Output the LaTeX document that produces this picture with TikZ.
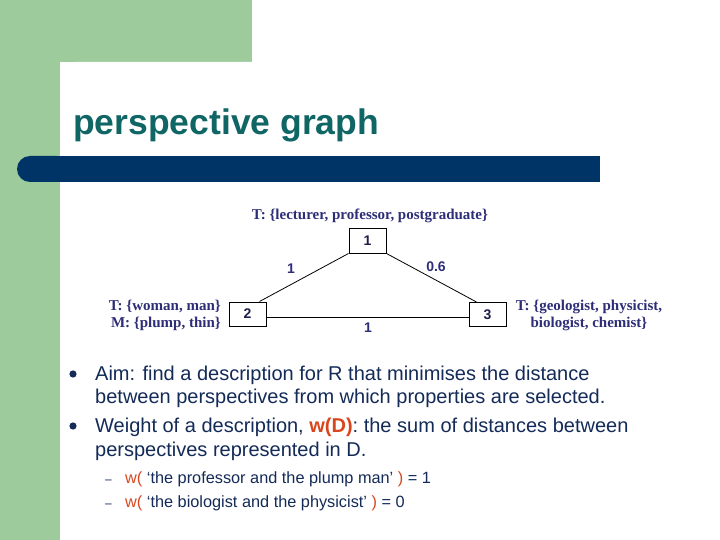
\documentclass[tikz,border=0pt]{standalone}
\usepackage{fontspec}
\setmainfont{Liberation Sans}
\newfontfamily\serifbold{Liberation Serif}
\usetikzlibrary{calc}
\definecolor{sgreen}{HTML}{9DCB9B}
\definecolor{barblue}{HTML}{003366}
\definecolor{titleteal}{HTML}{0F6664}
\definecolor{txtblue}{HTML}{142B58}
\definecolor{wred}{HTML}{D9461E}
\definecolor{lblnavy}{HTML}{2E2E78}
\definecolor{boxnavy}{HTML}{1E1E4A}
\tikzset{
  bodytxt/.style={anchor=base west, inner sep=0pt, text=txtblue, font=\fontsize{20}{24}\selectfont},
  subtxt/.style={anchor=base west, inner sep=0pt, text=txtblue, font=\fontsize{16.3}{19}\selectfont},
  pbox/.style={draw=black, line width=1pt, fill=white, minimum width=37pt, minimum height=24pt, inner sep=0pt, text=boxnavy, font=\fontsize{14}{16}\selectfont\bfseries},
  plabel/.style={inner sep=0pt, text=lblnavy, font=\fontsize{15}{17}\selectfont\serifbold\bfseries, align=center},
  elabel/.style={inner sep=0pt, text=lblnavy, font=\fontsize{14}{16}\selectfont\bfseries},
  edge/.style={draw=black, line width=0.8pt}
}
\begin{document}
\begin{tikzpicture}[x=1pt,y=-1pt]
\useasboundingbox (0,0) rectangle (720,540);
\clip (0,0) rectangle (720,540);
% background
\fill[white] (0,0) rectangle (720,540);
\fill[sgreen] (0,0) rectangle (252,62);
\fill[sgreen] (0,0) rectangle (60,540);
\fill[white, rounded corners=15pt] (60,62) rectangle (780,600);
% title
\node[anchor=base west, inner sep=0pt, text=titleteal, font=\fontsize{35.5}{40}\selectfont\bfseries] (title) at (73,135) {perspective graph};
% bar
\fill[barblue, rounded corners=13pt] (17,156) rectangle (70,182);
\fill[barblue] (40,156) rectangle (600,182);
% graph
\node[pbox] (b1) at (367.5,241) {1};
\node[pbox] (b2) at (247.5,314) {2};
\node[pbox] (b3) at (487.5,314.5) {3};
\draw[edge] (b1.south west) -- ($(b2.north east)+(-7,0)$);
\draw[edge] (b1.south east) -- ($(b3.north west)+(8,0)$);
\draw[edge] ($(b2.east)+(0,3)$) -- ($(b3.west)+(0,2.5)$);
\node[elabel] (e12) at (291,269) {1};
\node[elabel] (e13) at (436,267) {0.6};
\node[elabel] (e23) at (368,328) {1};
\node[plabel, anchor=base] (t1) at (370,220) {T: \{lecturer, professor, postgraduate\}};
\node[plabel, anchor=base east, align=right] (t2a) at (221,310) {T: \{woman, man\}};
\node[plabel, anchor=base east, align=right] (t2b) at (221,327) {M: \{plump, thin\}};
\node[plabel, anchor=base] (t3a) at (589,310) {T: \{geologist, physicist,};
\node[plabel, anchor=base] (t3b) at (589,327) {biologist, chemist\}};
% bullets
\fill[txtblue] (73,374) circle (3.6pt);
\fill[txtblue] (73,426) circle (3.6pt);
\node[bodytxt] (l1) at (95,380) {Aim: find a description for R that minimises the distance};
\node[bodytxt] (l2) at (95,403) {between perspectives from which properties are selected.};
\node[bodytxt] (l3) at (95,432) {Weight of a description, \textcolor{wred}{\textbf{w(D)}}: the sum of distances between};
\node[bodytxt] (l4) at (95,456) {perspectives represented in D.};
\node[subtxt, font=\fontsize{12}{14}\selectfont] (d1) at (105,483) {–};
\node[subtxt, font=\fontsize{12}{14}\selectfont] (d2) at (105,507) {–};
\node[subtxt] (s1) at (125,483) {\textcolor{wred}{w(} ‘the professor and the plump man’ \textcolor{wred}{)} = 1};
\node[subtxt] (s2) at (125,507) {\textcolor{wred}{w(} ‘the biologist and the physicist’ \textcolor{wred}{)} = 0};
\end{tikzpicture}
\end{document}
